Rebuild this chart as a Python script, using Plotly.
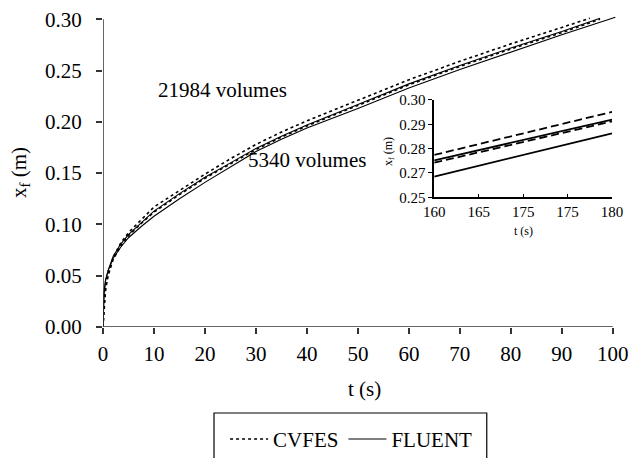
import plotly.graph_objects as go

# ---------------- data ----------------
t_common = [0, 0.2, 0.5, 1, 2, 3.5, 5, 7.5, 10, 15, 20, 25, 30, 35, 40, 50, 60, 70, 80, 90]

t_cvfes_21984 = t_common + [95.5]
x_cvfes_21984 = [0, 0.022, 0.038, 0.052, 0.068, 0.082, 0.092, 0.105, 0.117, 0.133, 0.149,
                 0.164, 0.178, 0.190, 0.201, 0.221, 0.241, 0.259, 0.276, 0.292, 0.301]

t_fluent_21984 = t_common + [97.5]
x_fluent_21984 = [0, 0.032, 0.045, 0.055, 0.069, 0.081, 0.090, 0.102, 0.113, 0.130, 0.146,
                  0.160, 0.174, 0.186, 0.197, 0.217, 0.237, 0.255, 0.272, 0.288, 0.301]

t_cvfes_5340 = t_common + [97.5]
x_cvfes_5340 = [0, 0.020, 0.036, 0.050, 0.066, 0.079, 0.089, 0.101, 0.112, 0.129, 0.145,
                0.159, 0.173, 0.185, 0.196, 0.216, 0.236, 0.254, 0.271, 0.287, 0.300]

t_fluent_5340 = t_common + [100.5]
x_fluent_5340 = [0, 0.034, 0.046, 0.055, 0.067, 0.078, 0.087, 0.098, 0.108, 0.125, 0.141,
                 0.156, 0.171, 0.183, 0.194, 0.213, 0.233, 0.251, 0.268, 0.285, 0.302]

# inset (zoom) data
t_inset = [160, 180]
xi_cvfes_a = [0.2774, 0.2951]
xi_fluent_a = [0.2752, 0.2919]
xi_cvfes_b = [0.2742, 0.2912]
xi_fluent_b = [0.2685, 0.2863]

x_ticks = [0, 10, 20, 30, 40, 50, 60, 70, 80, 90, 100]
y_ticks = [0.00, 0.05, 0.10, 0.15, 0.20, 0.25, 0.30]
inset_x_ticks = [160, 165, 170, 175, 180]
inset_x_text = ["160", "165", "175", "175", "180"]
inset_y_ticks = [0.26, 0.27, 0.28, 0.29, 0.30]
inset_y_text = ["0.25", "0.27", "0.28", "0.29", "0.30"]

# ---------------- figure ----------------
FONT = "'Liberation Serif', 'Times New Roman', serif"
AX = "#333333"

fig = go.Figure()

dot = dict(color="black", width=1.6, dash="dot")
sol = dict(color="black", width=1.1)

fig.add_trace(go.Scatter(x=t_cvfes_21984, y=x_cvfes_21984, mode="lines", line=dot,
                         name="CVFES", legendgroup="cv", showlegend=True))
fig.add_trace(go.Scatter(x=t_fluent_21984, y=x_fluent_21984, mode="lines", line=sol,
                         name="FLUENT", legendgroup="fl", showlegend=True))
fig.add_trace(go.Scatter(x=t_cvfes_5340, y=x_cvfes_5340, mode="lines", line=dot,
                         name="CVFES", legendgroup="cv", showlegend=False))
fig.add_trace(go.Scatter(x=t_fluent_5340, y=x_fluent_5340, mode="lines", line=sol,
                         name="FLUENT", legendgroup="fl", showlegend=False))

dash_in = dict(color="black", width=1.8, dash="8px,4px")
sol_in = dict(color="black", width=1.8)
for yv, ln in [(xi_cvfes_a, dash_in), (xi_fluent_a, sol_in), (xi_cvfes_b, dash_in), (xi_fluent_b, sol_in)]:
    fig.add_trace(go.Scatter(x=t_inset, y=yv, mode="lines", line=ln, xaxis="x2", yaxis="y2",
                             showlegend=False))

# axis lines drawn only over the labelled span
fig.add_shape(type="line", xref="x", yref="y", x0=0, x1=100, y0=0, y1=0,
              line=dict(color=AX, width=1.5))
fig.add_shape(type="line", xref="x", yref="y", x0=0, x1=0, y0=0, y1=0.30,
              line=dict(color=AX, width=1.5))
# legend frame
fig.add_shape(type="rect", xref="paper", yref="paper", x0=0.2135, x1=0.738, y0=-0.2704, y1=-0.45,
              line=dict(color="black", width=1.2), fillcolor="rgba(0,0,0,0)")

# the page body has an 8px margin, so the figure is 8px smaller and shifted
fig.update_layout(
    width=635, height=450,
    margin=dict(l=95, r=20, t=1, b=131, autoexpand=False),
    paper_bgcolor="white", plot_bgcolor="white",
    font=dict(family=FONT, size=21, color="black"),
    showlegend=True,
    legend=dict(orientation="h", x=0.478, xanchor="center", y=-0.289, yanchor="top",
                font=dict(family=FONT, size=21, color="black"), bgcolor="rgba(0,0,0,0)",
                borderwidth=0, itemwidth=38),
    xaxis=dict(range=[0, 102], showline=False, showgrid=False, zeroline=False, automargin=False,
               tickmode="array", tickvals=x_ticks, ticks="outside", ticklen=6, tickwidth=1.5,
               tickcolor=AX, tickfont=dict(size=21, family=FONT), ticklabelstandoff=2,
               ticklabeloverflow="allow"),
    yaxis=dict(range=[0, 0.31], showline=False, showgrid=False, zeroline=False, automargin=False,
               tickmode="array", tickvals=y_ticks, tickformat=".2f", ticks="outside", ticklen=6,
               tickwidth=1.5, tickcolor=AX, tickfont=dict(size=21, family=FONT), ticklabelstandoff=10,
               ticklabeloverflow="allow"),
    xaxis2=dict(domain=[0.637, 0.979], anchor="y2", range=[160, 180], showline=True,
                linecolor="black", linewidth=1.5, showgrid=False, zeroline=False, automargin=False,
                tickmode="array", tickvals=inset_x_ticks, ticktext=inset_x_text,
                ticks="inside", ticklen=4, tickwidth=1.2, tickcolor="black",
                tickfont=dict(size=15, family=FONT)),
    yaxis2=dict(domain=[0.408, 0.714], anchor="x2", range=[0.26, 0.30], showline=True,
                linecolor="black", linewidth=1.5, showgrid=False, zeroline=False, automargin=False,
                tickmode="array", tickvals=inset_y_ticks, ticktext=inset_y_text,
                ticks="outside", ticklen=4, tickwidth=1.2, tickcolor="black",
                tickfont=dict(size=15, family=FONT), ticklabelstandoff=0),
    annotations=[
        dict(text="x<sub>f</sub> (m)", xref="paper", yref="paper", x=-0.16, y=0.487,
             xanchor="center", yanchor="middle",
             showarrow=False, textangle=-90, font=dict(size=21, family=FONT)),
        dict(text="t (s)", xref="paper", yref="paper", x=0.502, y=-0.195,
             xanchor="center", yanchor="middle",
             showarrow=False, font=dict(size=21, family=FONT)),
        dict(text="21984 volumes", xref="x", yref="y", x=23.4, y=0.231,
             xanchor="center", yanchor="middle",
             showarrow=False, font=dict(size=21, family=FONT)),
        dict(text="5340 volumes", xref="x", yref="y", x=40.1, y=0.163,
             xanchor="center", yanchor="middle",
             showarrow=False, font=dict(size=21, family=FONT)),
        dict(text="t (s)", xref="paper", yref="paper", x=0.808, y=0.303,
             xanchor="center", yanchor="middle",
             showarrow=False, font=dict(size=12, family=FONT)),
        dict(text="x<sub>f</sub> (m)", xref="paper", yref="paper", x=0.55, y=0.55,
             xanchor="center", yanchor="middle",
             showarrow=False, textangle=-90, font=dict(size=12, family=FONT)),
    ],
)

fig.write_html("out.html")
